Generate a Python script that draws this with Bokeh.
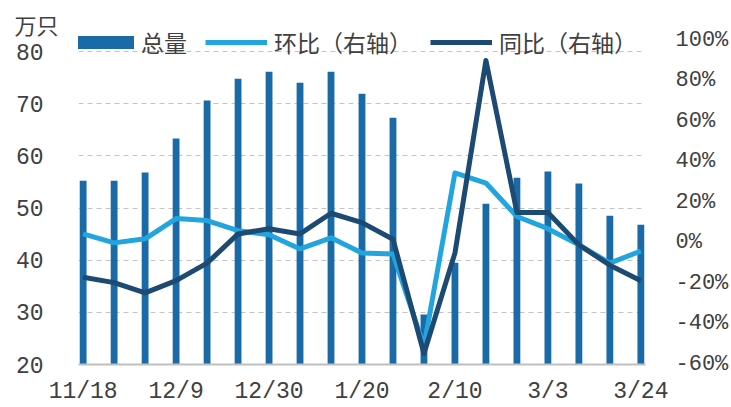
from bokeh.plotting import figure
from bokeh.models import (Range1d, LinearAxis, FixedTicker, PrintfTickFormatter,
                          Legend, LegendItem, ColumnDataSource)
from bokeh.embed import file_html
from bokeh.resources import INLINE

weeks = ["11/18", "11/25", "12/2", "12/9", "12/16", "12/23", "12/30", "1/6", "1/13",
         "1/20", "1/27", "2/3", "2/10", "2/17", "2/24", "3/3", "3/10", "3/17", "3/24"]
total = [55.2, 55.2, 56.8, 63.3, 70.6, 74.8, 76.1, 74.0, 76.1, 71.9,
         67.3, 29.6, 39.5, 50.8, 55.8, 57.0, 54.7, 48.5, 46.8]
mom = [4.4, 0.0, 2.0, 12.0, 11.0, 6.0, 4.0, -3.0, 2.5, -5.0,
       -5.5, -51.0, 34.5, 29.5, 13.0, 7.0, -1.0, -10.0, -4.0]
yoy = [-17.0, -19.6, -24.7, -18.6, -10.0, 4.4, 7.0, 4.4, 14.6, 10.0,
       1.8, -54.6, -5.0, 90.0, 15.0, 15.0, -1.0, -11.0, -18.7]
left_ticks = [20, 30, 40, 50, 60, 70, 80]
right_ticks = [-60, -40, -20, 0, 20, 40, 60, 80, 100]
label_ticks = [0, 3, 6, 9, 12, 15, 18]
unit_text = "万只"

BAR = "#1a6aa7"
LIGHT = "#22a5de"
DARK = "#1d4a73"
TXT = "#404040"
NUMFONT = "Liberation Mono"
CJK = "Noto Sans CJK SC"

idx = list(range(len(weeks)))
src = ColumnDataSource(dict(x=idx, total=total, mom=mom, yoy=yoy))

# frame spans from canvas top (y=0) to y=364; 80 sits at y=51
PX_PER_UNIT = 313 / 60
TOP_PAD = 51 / PX_PER_UNIT
UNIT_POS = 85.2  # vertical spot of the unit text (above the 80 tick)

p = figure(width=731, height=407, output_backend="svg", toolbar_location=None,
           x_range=Range1d(-0.15, len(weeks) - 1 + 0.15),
           y_range=Range1d(20, 80 + TOP_PAD),
           min_border_left=78, min_border_right=79, min_border_top=0, min_border_bottom=43)
p.extra_y_ranges = {"pct": Range1d(-60, 100 + 2 * TOP_PAD)}
p.outline_line_color = None
p.background_fill_color = "white"

bars = p.vbar(x="x", top="total", bottom=20, width=0.22, source=src,
              fill_color=BAR, line_color=None)
l1 = p.line(x="x", y="mom", source=src, y_range_name="pct", line_color=LIGHT,
            line_width=5, line_join="round")
l2 = p.line(x="x", y="yoy", source=src, y_range_name="pct", line_color=DARK,
            line_width=5, line_join="round")
# single-point line: draws nothing in the plot, only provides the legend key for the bars
bar_key = p.line(x=[idx[0]], y=[total[0]], line_color=BAR, line_width=13)

# x axis
xa = p.xaxis[0]
xa.ticker = FixedTicker(ticks=label_ticks)
xa.major_label_overrides = {i: weeks[i] for i in label_ticks}
xa.axis_line_color = "#bfbfbf"
xa.axis_line_width = 2
xa.major_tick_line_color = None
xa.minor_tick_line_color = None
xa.major_label_text_font = NUMFONT
xa.major_label_text_font_size = "23px"
xa.major_label_text_color = TXT
xa.major_label_standoff = 8

# left axis
ya = p.yaxis[0]
ya.ticker = FixedTicker(ticks=left_ticks)
ya.axis_line_color = None
ya.major_tick_line_color = None
ya.minor_tick_line_color = None
ya.major_label_text_font = NUMFONT
ya.major_label_text_font_size = "23px"
ya.major_label_text_color = TXT
ya.major_label_standoff = 29

# unit text as a one-tick axis stacked to the left of the value axis
ua = LinearAxis(ticker=FixedTicker(ticks=[UNIT_POS]),
                major_label_overrides={UNIT_POS: unit_text})
ua.axis_line_color = None
ua.major_tick_line_color = None
ua.minor_tick_line_color = None
ua.major_label_text_font = CJK
ua.major_label_text_font_size = "22px"
ua.major_label_text_color = TXT
ua.major_label_standoff = -52
p.add_layout(ua, "left")

# right axis
ra = LinearAxis(y_range_name="pct", ticker=FixedTicker(ticks=right_ticks),
                formatter=PrintfTickFormatter(format="%d%%"))
ra.axis_line_color = None
ra.major_tick_line_color = None
ra.minor_tick_line_color = None
ra.major_label_text_font = NUMFONT
ra.major_label_text_font_size = "22px"
ra.major_label_text_color = TXT
ra.major_label_standoff = 24
p.add_layout(ra, "right")

p.xgrid.visible = False
p.ygrid.ticker = FixedTicker(ticks=left_ticks[1:])
p.ygrid.grid_line_color = "#c4c4c4"
p.ygrid.grid_line_dash = "5 4"
p.ygrid.grid_line_width = 1

legend = Legend(items=[LegendItem(label="总量", renderers=[bar_key]),
                       LegendItem(label="环比（右轴）", renderers=[l1]),
                       LegendItem(label="同比（右轴）", renderers=[l2])],
                orientation="horizontal", location=(-6, 305),
                padding=0, margin=0, spacing=18, label_standoff=7,
                glyph_width=62, glyph_height=26,
                border_line_color=None, background_fill_alpha=0,
                label_text_font=CJK, label_text_font_size="23px",
                label_text_color=TXT)
p.add_layout(legend, "center")

open("out.html", "w").write(file_html(p, INLINE))
